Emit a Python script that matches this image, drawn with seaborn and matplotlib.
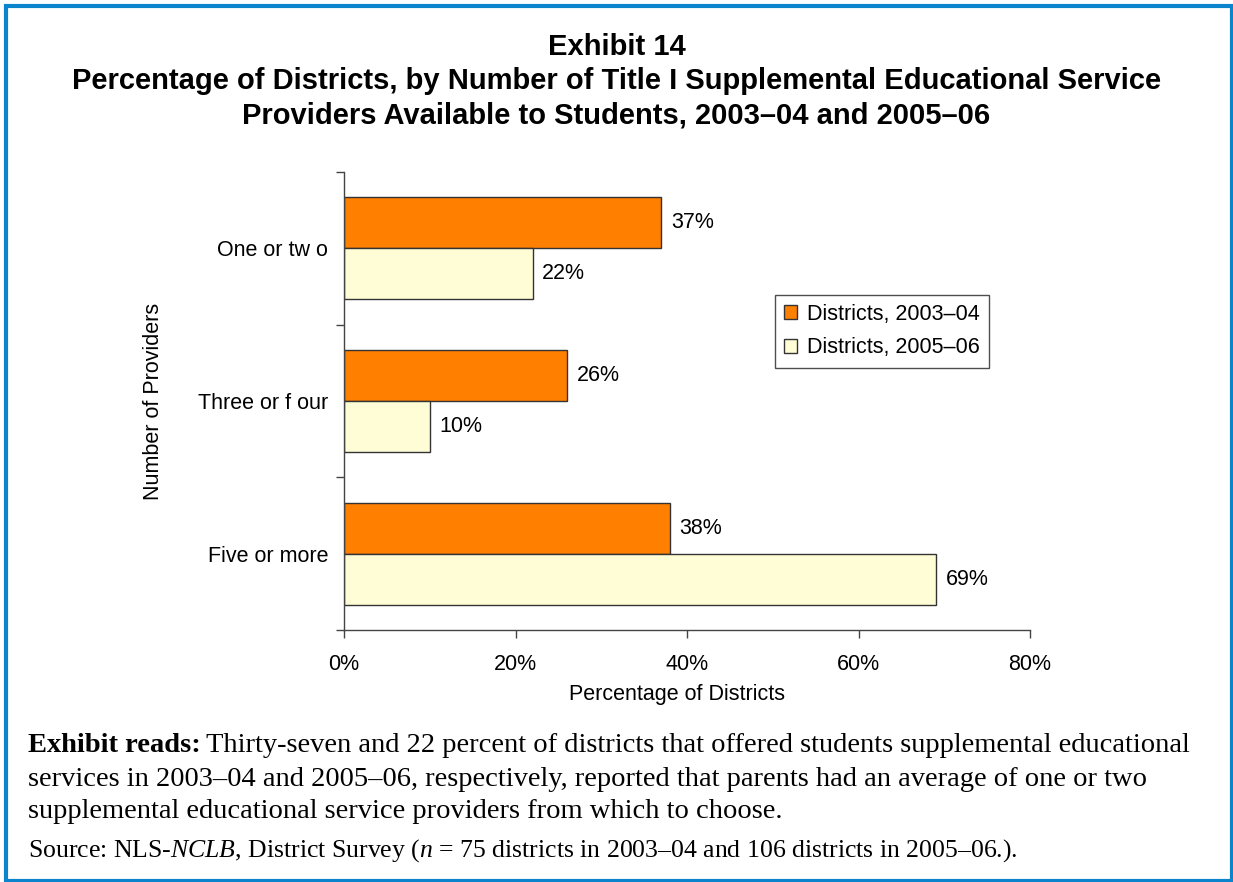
import matplotlib
matplotlib.use("Agg")
import matplotlib.pyplot as plt
import seaborn as sns
import pandas as pd
from matplotlib.patches import Rectangle
from matplotlib.ticker import FixedLocator, PercentFormatter

categories = ["One or tw o", "Three or f our", "Five or more"]
series_names = ["Districts, 2003\u201304", "Districts, 2005\u201306"]
values_2003 = [37, 26, 38]
values_2005 = [22, 10, 69]
x_ticks = [0, 20, 40, 60, 80]

df = pd.DataFrame({
    "category": categories * 2,
    "series": [series_names[0]] * 3 + [series_names[1]] * 3,
    "value": values_2003 + values_2005,
})

sns.set_theme(style="white")
plt.rcParams["font.family"] = ["Liberation Sans", "DejaVu Sans"]
plt.rcParams["text.color"] = "#000000"
plt.rcParams["mathtext.fontset"] = "custom"
plt.rcParams["mathtext.it"] = "Liberation Serif:italic"
plt.rcParams["mathtext.rm"] = "Liberation Serif"

FS = 15.5
fig = plt.figure(figsize=(12.33, 8.82), dpi=100)
ax = fig.add_axes([344/1233, 1-630/882, (1030-344)/1233, (630-172)/882])

palette = {series_names[0]: "#FF7F00", series_names[1]: "#FFFDD6"}
sns.barplot(data=df, y="category", x="value", hue="series", orient="h",
            palette=palette, width=0.67, edgecolor="#333333", linewidth=1.0,
            saturation=1, ax=ax, legend=True)

for cont in ax.containers:
    ax.bar_label(cont, labels=[f"{int(v)}%" for v in cont.datavalues],
                 padding=7, fontsize=FS, color="#000000")

ax.set_xlim(0, 80)
ax.set_ylim(2.5, -0.5)
ax.set_xticks(x_ticks)
ax.xaxis.set_major_formatter(PercentFormatter(decimals=0))
ax.tick_params(axis="x", labelsize=FS, length=6, width=1, color="#444444",
               direction="out", bottom=True, pad=11, labelcolor="#000000")
ax.set_yticks(range(len(categories)))
ax.set_yticklabels(categories)
ax.tick_params(axis="y", which="major", length=0, labelsize=FS, pad=11.5,
               labelcolor="#000000")
ax.yaxis.set_minor_locator(FixedLocator([-0.5, 0.5, 1.5, 2.5]))
ax.tick_params(axis="y", which="minor", length=6, width=1, color="#444444",
               direction="out", left=True)

for s in ["top", "right"]:
    ax.spines[s].set_visible(False)
for s in ["left", "bottom"]:
    ax.spines[s].set_color("#444444")
    ax.spines[s].set_linewidth(1.0)

ax.set_xlabel("Percentage of Districts", fontsize=FS, color="#000000")
ax.xaxis.set_label_coords((677-344)/686, -(684-630)/458)
ax.set_ylabel("Number of Providers", fontsize=FS, color="#000000")
ax.yaxis.set_label_coords(-(344-164)/686, 0.5)

leg = ax.legend(loc="center", bbox_to_anchor=((882-344)/686, (630-331)/458),
                fontsize=FS, frameon=True, fancybox=False, edgecolor="#222222",
                handlelength=0.6, handleheight=0.6, handletextpad=0.45,
                borderpad=0.42, borderaxespad=0, labelspacing=0.6)
leg.get_frame().set_linewidth(1.0)

TF = 21
fig.text(0.5, 1-47/882, "Exhibit 14", ha="center", va="center",
         fontsize=TF, fontweight="bold")
fig.text(0.5, 1-81/882, "Percentage of Districts, by Number of Title I Supplemental Educational Service",
         ha="center", va="center", fontsize=TF, fontweight="bold")
fig.text(0.5, 1-115/882, "Providers Available to Students, 2003\u201304 and 2005\u201306",
         ha="center", va="center", fontsize=TF, fontweight="bold")

serif = ["Liberation Serif", "DejaVu Serif"]
NF = 20.5
t1 = fig.text(28/1233, 1-746/882, "Exhibit reads:", ha="left", va="center",
              fontsize=NF, fontweight="bold", family=serif)
fig.canvas.draw()
bb = t1.get_window_extent()
fig.text((bb.x1 + 5)/1233, 1-746/882,
         "Thirty-seven and 22 percent of districts that offered students supplemental educational",
         ha="left", va="center", fontsize=NF, family=serif)
fig.text(28/1233, 1-779/882,
         "services in 2003\u201304 and 2005\u201306, respectively, reported that parents had an average of one or two",
         ha="left", va="center", fontsize=NF, family=serif)
fig.text(28/1233, 1-812/882,
         "supplemental educational service providers from which to choose.",
         ha="left", va="center", fontsize=NF, family=serif)
fig.text(28/1233, 1-851/882,
         "Source: NLS-$\\it{NCLB}$, District Survey ($\\it{n}$ = 75 districts in 2003\u201304 and 106 districts in 2005\u201306.).",
         ha="left", va="center", fontsize=18.5, family=serif)

fig.patches.append(Rectangle((5.5/1233, 1-880.5/882), 1226/1233, 875/882,
                             transform=fig.transFigure, fill=False,
                             edgecolor="#0A84CC", linewidth=3))

fig.savefig("out.png", dpi=100)
